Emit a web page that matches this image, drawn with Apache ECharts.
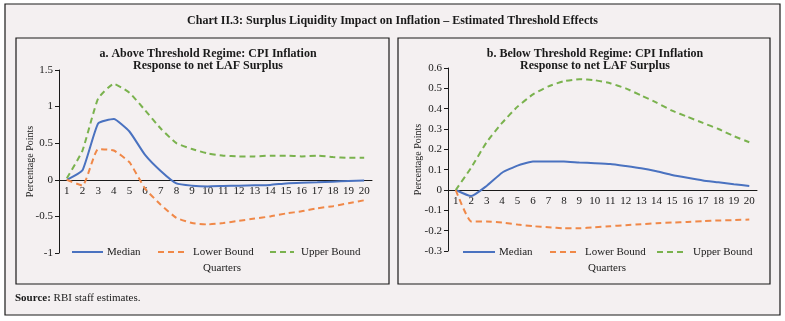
<!DOCTYPE html>
<html>
<head>
<meta charset="utf-8">
<script src="https://cdn.jsdelivr.net/npm/echarts@6/dist/echarts.min.js"></script>
<style>
  html, body { margin: 0; padding: 0; background: #ffffff; }
  #chart { width: 785px; height: 321px; }
</style>
</head>
<body>
<div id="chart"></div>
<script>
// Quarters after the shock
const quarters = ['1','2','3','4','5','6','7','8','9','10','11','12','13','14','15','16','17','18','19','20'];

// Panel a: above threshold regime
const aMedian = [0, 0.13, 0.77, 0.83, 0.66, 0.34, 0.12, -0.05, -0.08, -0.09, -0.085, -0.08, -0.075, -0.07, -0.05, -0.04, -0.035, -0.025, -0.015, -0.01];
const aLower  = [0, -0.08, 0.42, 0.40, 0.24, -0.12, -0.34, -0.52, -0.59, -0.61, -0.59, -0.56, -0.53, -0.50, -0.46, -0.43, -0.39, -0.36, -0.32, -0.28];
const aUpper  = [0.02, 0.40, 1.11, 1.31, 1.19, 0.95, 0.70, 0.50, 0.42, 0.36, 0.33, 0.32, 0.32, 0.33, 0.33, 0.32, 0.33, 0.31, 0.30, 0.30];

// Panel b: below threshold regime
const bMedian = [0, -0.03, 0.02, 0.085, 0.12, 0.14, 0.14, 0.14, 0.135, 0.132, 0.128, 0.118, 0.107, 0.092, 0.074, 0.06, 0.047, 0.038, 0.028, 0.02];
const bLower  = [0, -0.155, -0.155, -0.16, -0.17, -0.178, -0.183, -0.188, -0.188, -0.183, -0.178, -0.173, -0.168, -0.163, -0.16, -0.157, -0.153, -0.15, -0.148, -0.145];
const bUpper  = [0, 0.11, 0.235, 0.33, 0.41, 0.47, 0.51, 0.535, 0.545, 0.54, 0.525, 0.50, 0.465, 0.43, 0.39, 0.36, 0.33, 0.30, 0.265, 0.235];

const seriesNames = ['Median', 'Lower Bound', 'Upper Bound'];

const FONT = 'Liberation Serif';
const INK = '#1a1a1a';
const BG = '#f4f0f1';
const COLORS = ['#4a72c0', '#f08848', '#7ab24e'];
const DASHED = [false, true, true];
const DASH = [6, 4];

// Plot areas of the two panels (pixels)
const GRIDS = [
  { left: 59, top: 70, width: 313, height: 183, min: -1, max: 1.5, interval: 0.5, nameGap: 24 },
  { left: 448, top: 68, width: 309, height: 183, min: -0.3, max: 0.6, interval: 0.1, nameGap: 25 }
];

// Offset that lifts the category axis onto the zero line of the value axis
function zeroOffset(g) {
  return -g.height * (0 - g.min) / (g.max - g.min);
}

function xAxisFor(i) {
  const g = GRIDS[i];
  return {
    type: 'category', gridIndex: i, data: quarters, boundaryGap: true,
    position: 'bottom', offset: zeroOffset(g),
    axisLine: { onZero: false, lineStyle: { color: INK, width: 1 } },
    axisTick: { inside: true, length: 4, alignWithLabel: false, lineStyle: { color: INK } },
    axisLabel: { color: INK, fontFamily: FONT, fontSize: 11, margin: 6, interval: 0 },
    splitLine: { show: false }
  };
}

function yAxisFor(i) {
  const g = GRIDS[i];
  return {
    type: 'value', gridIndex: i, min: g.min, max: g.max, interval: g.interval,
    name: 'Percentage Points', nameLocation: 'middle', nameGap: g.nameGap, nameRotate: 90,
    nameMoveOverlap: false,
    nameTextStyle: { color: INK, fontFamily: FONT, fontSize: 10 },
    axisLine: { show: true, lineStyle: { color: INK, width: 1 } },
    axisTick: { show: true, length: 4, lineStyle: { color: INK } },
    axisLabel: { color: INK, fontFamily: FONT, fontSize: 11, margin: 6,
      formatter: v => String(Math.round(v * 10) / 10) },
    splitLine: { show: false }
  };
}

function lineSeries(k, data, idx) {
  return {
    name: seriesNames[k], type: 'line', data, xAxisIndex: idx, yAxisIndex: idx,
    symbol: 'none', smooth: 0.15,
    lineStyle: { color: COLORS[k], width: 2, type: DASHED[k] ? DASH : 'solid' },
    itemStyle: { color: COLORS[k] }
  };
}

// Key entries under each panel: [x0, x1, textX]
const KEYS = [
  [[72, 103, 107], [158, 186, 193], [270, 294, 301]],
  [[463, 495, 499], [550, 577, 585], [657, 685, 693]]
];
const KEY_Y = 252;

const keyGraphics = [];
KEYS.forEach(panel => panel.forEach((k, j) => {
  keyGraphics.push({
    type: 'line', shape: { x1: k[0], y1: KEY_Y, x2: k[1], y2: KEY_Y },
    style: { stroke: COLORS[j], lineWidth: 2, lineDash: DASHED[j] ? DASH : null }
  });
  keyGraphics.push({
    type: 'text', x: k[2], y: KEY_Y,
    style: { text: seriesNames[j], fill: INK, font: '11px "Liberation Serif"',
      textAlign: 'left', textVerticalAlign: 'middle' }
  });
}));

const chart = echarts.init(document.getElementById('chart'), null, { renderer: 'canvas' });

chart.setOption({
  animation: false,
  backgroundColor: 'transparent',
  title: [
    { text: 'Chart II.3: Surplus Liquidity Impact on Inflation \u2013 Estimated Threshold Effects',
      left: 'center', top: 10,
      textStyle: { color: INK, fontFamily: FONT, fontSize: 12, fontWeight: 'bold' } },
    { text: 'a. Above Threshold Regime: CPI Inflation\nResponse to net LAF Surplus',
      left: 203, top: 43, textAlign: 'center',
      textStyle: { color: INK, fontFamily: FONT, fontSize: 12, fontWeight: 'bold', lineHeight: 12 } },
    { text: 'b. Below Threshold Regime: CPI Inflation\nResponse to net LAF Surplus',
      left: 590, top: 43, textAlign: 'center',
      textStyle: { color: INK, fontFamily: FONT, fontSize: 12, fontWeight: 'bold', lineHeight: 12 } }
  ],
  graphic: [
    { type: 'rect', z: -10, shape: { x: 5, y: 4, width: 775, height: 311 },
      style: { fill: BG, stroke: INK, lineWidth: 1.2 } },
    { type: 'rect', z: -9, shape: { x: 16, y: 38, width: 373, height: 246 },
      style: { fill: BG, stroke: INK, lineWidth: 1.2 } },
    { type: 'rect', z: -9, shape: { x: 398, y: 38, width: 372, height: 246 },
      style: { fill: BG, stroke: INK, lineWidth: 1.2 } },
    { type: 'text', x: 222, y: 268, style: { text: 'Quarters', fill: INK, font: '11px "Liberation Serif"',
      textAlign: 'center', textVerticalAlign: 'middle' } },
    { type: 'text', x: 607, y: 268, style: { text: 'Quarters', fill: INK, font: '11px "Liberation Serif"',
      textAlign: 'center', textVerticalAlign: 'middle' } },
    { type: 'text', x: 15, y: 298, style: {
        text: '{b|Source:} RBI staff estimates.',
        rich: { b: { fontWeight: 'bold', fontFamily: FONT, fontSize: 11, fill: INK } },
        fontFamily: FONT, fontSize: 11, fill: INK, textVerticalAlign: 'middle' } }
  ].concat(keyGraphics),
  grid: GRIDS.map(g => ({ left: g.left, top: g.top, width: g.width, height: g.height })),
  xAxis: [xAxisFor(0), xAxisFor(1)],
  yAxis: [yAxisFor(0), yAxisFor(1)],
  series: [
    lineSeries(0, aMedian, 0), lineSeries(1, aLower, 0), lineSeries(2, aUpper, 0),
    lineSeries(0, bMedian, 1), lineSeries(1, bLower, 1), lineSeries(2, bUpper, 1)
  ]
});
</script>
</body>
</html>
